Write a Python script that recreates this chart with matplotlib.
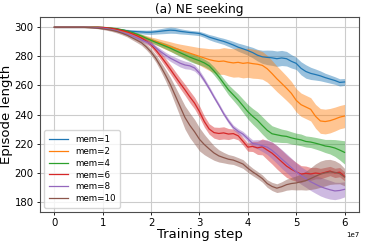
import numpy as np
import matplotlib
matplotlib.use("Agg")
import matplotlib.pyplot as plt

# training steps (x 1e7), one reading every 0.1e7
steps = np.round(np.arange(0, 61) * 0.1, 1) * 1e7

labels = ["mem=1", "mem=2", "mem=4", "mem=6", "mem=8", "mem=10"]

mem1_mean = [300] * 10 + [
    299.8, 299.5, 299.0, 298.6, 298.1, 297.6, 297.2, 297.0, 296.8, 296.6,
    296.6, 296.9, 297.3, 297.7, 298.0, 297.8, 297.2, 296.8, 296.4, 296.1,
    295.7, 294.6, 293.2, 292.2, 291.2, 290.3, 289.1, 287.8, 286.3, 285.2,
    284.0, 282.6, 280.8, 279.7, 279.3, 279.0, 278.4, 278.9, 278.4, 276.6,
    275.2, 271.8, 269.6, 268.3, 267.5, 266.6, 265.4, 264.4, 263.4, 262.1, 262.4]
mem1_std = [0.2] * 10 + [
    0.3, 0.4, 0.5, 0.7, 0.8, 1.0, 1.1, 1.2, 1.3, 1.4,
    1.5, 1.6, 1.8, 2.0, 2.1, 2.0, 1.8, 1.6, 1.5, 1.5,
    1.5, 1.6, 1.8, 2.0, 2.0, 2.1, 2.3, 2.5, 2.8, 3.0,
    3.2, 3.6, 4.0, 4.5, 5.0, 5.2, 5.3, 5.2, 5.0, 4.6,
    4.2, 4.5, 4.6, 4.2, 3.8, 3.4, 3.0, 2.8, 2.6, 2.5, 2.4]

mem2_mean = [300] * 10 + [
    299.8, 299.5, 299.0, 298.4, 297.6, 296.8, 295.8, 294.7, 293.6, 292.5,
    291.3, 290.2, 289.0, 287.8, 286.7, 285.5, 284.4, 283.3, 282.2, 281.1,
    280.0, 278.9, 277.8, 277.0, 276.5, 276.8, 276.0, 275.5, 275.9, 275.2,
    275.6, 275.0, 274.6, 273.8, 271.5, 268.2, 264.6, 261.4, 258.1, 254.6,
    249.8, 246.8, 245.2, 243.6, 238.8, 235.6, 235.2, 235.8, 236.9, 238.2, 239.0]
mem2_std = [0.2] * 10 + [
    0.3, 0.4, 0.5, 0.6, 0.8, 1.0, 1.2, 1.4, 1.6, 1.8,
    2.0, 2.3, 2.6, 3.0, 3.3, 3.6, 4.0, 4.5, 5.0, 5.5,
    6.0, 6.8, 7.5, 8.2, 8.8, 9.2, 9.5, 9.8, 10.0, 10.0,
    10.0, 10.0, 9.8, 9.5, 9.2, 9.0, 8.8, 8.6, 8.4, 8.2,
    8.0, 8.0, 8.0, 8.0, 8.2, 8.5, 8.5, 8.4, 8.2, 8.0, 8.0]

mem4_mean = [300] * 10 + [
    299.9, 299.7, 299.4, 299.0, 298.3, 297.5, 296.5, 295.3, 294.0, 292.4,
    291.0, 289.6, 288.3, 287.0, 285.6, 284.0, 282.5, 281.0, 279.5, 278.2,
    277.0, 275.5, 273.5, 270.0, 266.0, 261.5, 257.0, 253.5, 250.0, 246.0,
    242.0, 238.8, 236.0, 232.5, 229.2, 226.8, 226.1, 225.4, 225.0, 224.0,
    223.2, 222.6, 221.5, 221.1, 220.3, 219.4, 218.4, 217.9, 217.0, 215.6, 214.0]
mem4_std = [0.2] * 10 + [
    0.2, 0.3, 0.4, 0.5, 0.6, 0.8, 0.9, 1.0, 1.2, 1.3,
    1.5, 1.6, 1.8, 2.0, 2.2, 2.4, 2.6, 2.8, 3.0, 3.0,
    2.8, 2.6, 2.6, 2.8, 3.0, 3.2, 3.5, 3.8, 4.2, 4.6,
    5.0, 5.4, 5.8, 6.0, 6.0, 5.5, 5.0, 4.6, 4.3, 4.2,
    4.0, 4.0, 3.8, 3.8, 4.0, 4.2, 4.5, 5.0, 5.8, 6.8, 8.0]

mem6_mean = [300] * 10 + [
    299.9, 299.6, 299.2, 298.6, 297.8, 296.9, 295.7, 294.3, 292.6, 290.5,
    288.0, 284.2, 280.1, 275.6, 271.0, 266.2, 261.5, 257.0, 252.2, 247.8,
    242.0, 235.2, 230.1, 227.6, 227.0, 227.4, 226.6, 226.9, 225.4, 221.6,
    217.6, 218.1, 217.1, 217.8, 215.6, 213.5, 210.6, 207.6, 204.6, 202.4,
    200.6, 199.1, 199.6, 199.2, 199.8, 199.4, 200.3, 201.2, 199.9, 200.4, 197.6]
mem6_std = [0.2] * 10 + [
    0.3, 0.4, 0.5, 0.6, 0.8, 1.0, 1.1, 1.3, 1.5, 1.7,
    2.0, 2.3, 2.6, 2.9, 3.2, 3.4, 3.6, 3.8, 4.0, 4.0,
    4.0, 3.8, 3.6, 3.8, 4.2, 4.2, 3.8, 3.2, 2.8, 2.6,
    2.8, 3.5, 4.5, 5.5, 6.5, 7.5, 8.0, 8.0, 7.8, 7.2,
    6.5, 5.8, 5.0, 4.4, 4.0, 3.6, 3.4, 3.2, 3.2, 3.2, 3.2]

mem8_mean = [300] * 8 + [299.8, 299.6] + [
    299.3, 298.9, 298.3, 297.5, 296.5, 295.5, 294.2, 292.8, 291.3, 290.0,
    288.5, 285.8, 283.2, 280.8, 278.7, 277.0, 275.3, 274.1, 273.5, 272.0,
    268.5, 263.5, 258.0, 252.1, 246.5, 240.6, 235.5, 231.1, 228.5, 226.5,
    223.4, 220.1, 219.6, 218.6, 217.6, 215.4, 212.6, 209.5, 206.6, 203.6,
    200.6, 198.1, 196.0, 193.8, 192.1, 190.5, 189.3, 188.3, 187.5, 187.8, 188.6]
mem8_std = [0.3] * 10 + [
    0.4, 0.5, 0.6, 0.7, 0.8, 1.0, 1.1, 1.2, 1.3, 1.4,
    1.5, 1.6, 1.8, 2.0, 2.2, 2.4, 2.6, 2.6, 2.4, 2.2,
    2.0, 1.8, 1.6, 1.5, 1.5, 1.5, 1.6, 1.7, 1.8, 1.9,
    2.0, 2.5, 3.2, 4.0, 5.0, 5.8, 6.2, 6.5, 6.5, 6.4,
    6.2, 6.0, 6.0, 6.0, 6.2, 6.4, 6.5, 6.4, 6.0, 5.6, 5.2]

mem10_mean = [300] * 7 + [299.8, 299.6, 299.3] + [
    298.9, 298.4, 297.8, 297.0, 295.9, 294.6, 292.9, 291.2, 289.4, 286.5,
    283.0, 278.5, 273.0, 267.0, 260.5, 253.0, 245.5, 238.0, 232.6, 228.1,
    223.0, 219.4, 216.4, 213.6, 211.6, 210.4, 209.3, 208.7, 207.4, 206.0,
    203.1, 200.6, 198.4, 196.0, 192.6, 190.6, 189.4, 190.4, 191.8, 192.6,
    193.0, 193.8, 194.6, 196.0, 197.6, 199.0, 200.0, 200.6, 200.3, 199.4, 197.0]
mem10_std = [0.3] * 10 + [
    0.5, 0.6, 0.8, 1.0, 1.1, 1.2, 1.4, 1.6, 1.8, 2.0,
    2.2, 2.6, 3.2, 4.0, 5.0, 6.0, 7.0, 8.0, 8.5, 8.5,
    8.0, 7.0, 6.0, 5.0, 4.2, 3.6, 3.2, 3.0, 3.0, 3.0,
    2.8, 2.6, 2.5, 2.5, 2.6, 2.8, 3.0, 3.4, 3.8, 4.2,
    4.8, 5.5, 6.5, 7.5, 8.5, 9.0, 9.0, 8.6, 8.0, 7.0, 6.0]

means = [mem1_mean, mem2_mean, mem4_mean, mem6_mean, mem8_mean, mem10_mean]
stds = [mem1_std, mem2_std, mem4_std, mem6_std, mem8_std, mem10_std]
colors = ["tab:blue", "tab:orange", "tab:green", "tab:red", "tab:purple", "tab:brown"]

fig = plt.figure(figsize=(3.66, 2.44), dpi=100)
ax = fig.add_axes([0.109, 0.131, 0.872, 0.799])

for m, s, c, lab in zip(means, stds, colors, labels):
    m = np.array(m)
    s = np.array(s)
    ax.fill_between(steps, m - s, m + s, color=c, alpha=0.45, linewidth=0)
    ax.plot(steps, m, color=c, linewidth=0.9, label=lab)

ax.set_xlim(-0.3e7, 6.3e7)
ax.set_ylim(173, 307)
ax.set_yticks([180, 200, 220, 240, 260, 280, 300])
ax.grid(True, color="#cccccc", linewidth=0.8)
ax.set_axisbelow(True)
for sp in ax.spines.values():
    sp.set_color("0.3")
    sp.set_linewidth(0.8)
ax.tick_params(labelsize=7.3, length=2.5, width=0.6, pad=2)
ax.xaxis.get_offset_text().set_fontsize(5)

ax.set_title("(a) NE seeking", fontsize=8.7, pad=3)
ax.set_xlabel("Training step", fontsize=9.5, labelpad=0)
ax.set_ylabel("Episode length", fontsize=9.5, labelpad=1)
ax.legend(loc="lower left", fontsize=6.3, handlelength=2.2, labelspacing=0.33,
          borderpad=0.5, framealpha=0.8)

fig.savefig("out.png", dpi=100)
